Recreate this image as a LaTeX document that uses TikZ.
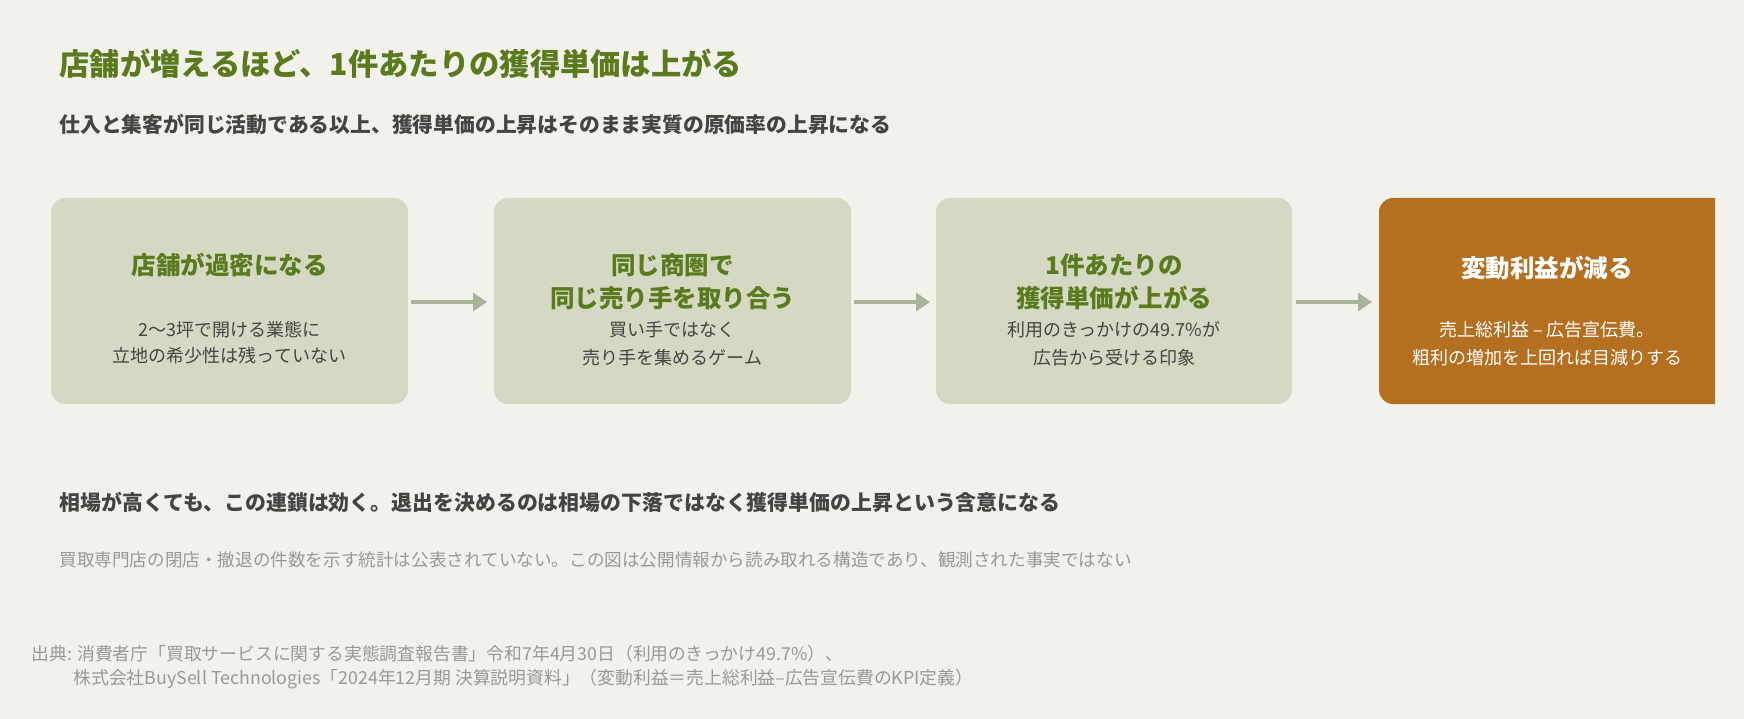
\documentclass[tikz,border=0pt]{standalone}
\usepackage{fontspec}
\setmainfont{Noto Sans CJK JP}
\usetikzlibrary{arrows.meta}
\definecolor{bg}{HTML}{F3F1EB}
\definecolor{boxc}{HTML}{D5D9C3}
\definecolor{grn}{HTML}{5A7A1E}
\definecolor{arr}{HTML}{A8B39A}
\definecolor{org}{HTML}{B56F21}
\definecolor{dk}{HTML}{444444}
\definecolor{gr}{HTML}{999999}
\begin{document}
\begin{tikzpicture}[x=1pt,y=-1pt,
 box/.style={fill=boxc,rounded corners=14pt},
 bt/.style={font=\fontsize{24.5}{30}\selectfont\bfseries,text=grn,anchor=center},
 bs/.style={font=\fontsize{18}{26}\selectfont,text=dk,anchor=center},
 ar/.style={draw=arr,line width=4pt,-{Triangle[length=14pt,width=18pt]}}]
\fill[bg] (0,0) rectangle (1744,719);
\useasboundingbox (0,0) rectangle (1744,719);
\node[anchor=base west,font=\fontsize{30.3}{34}\selectfont\bfseries,text=grn] (t) at (56,76) {店舗が増えるほど、1件あたりの獲得単価は上がる};
\node[anchor=base west,font=\fontsize{20.8}{24}\selectfont\bfseries,text=dk] (s) at (56,133) {仕入と集客が同じ活動である以上、獲得単価の上昇はそのまま実質の原価率の上昇になる};
\fill[box] (51,198) rectangle (408,404);
\fill[box] (494,198) rectangle (851,404);
\fill[box] (936,198) rectangle (1292,404);
\begin{scope}
\clip (1379,190) rectangle (1715,410);
\fill[org,rounded corners=14pt] (1379,198) rectangle (1736,404);
\end{scope}
\node[bt] (t1) at (229.5,265) {店舗が過密になる};
\node[bs] (s1a) at (229.5,330) {2〜3坪で開ける業態に};
\node[bs] (s1b) at (229.5,356) {立地の希少性は残っていない};
\node[bt] (t2a) at (672.5,265) {同じ商圏で};
\node[bt] (t2b) at (672.5,298) {同じ売り手を取り合う};
\node[bs] (s2a) at (672.5,330) {買い手ではなく};
\node[bs] (s2b) at (672.5,358) {売り手を集めるゲーム};
\node[bt] (t3a) at (1114,265) {1件あたりの};
\node[bt] (t3b) at (1114,298) {獲得単価が上がる};
\node[bs] (s3a) at (1114,330) {利用のきっかけの49.7\%が};
\node[bs] (s3b) at (1114,358) {広告から受ける印象};
\node[bt,text=white] (t4) at (1547,268) {変動利益が減る};
\node[bs,text=white] (s4a) at (1547,330) {売上総利益 – 広告宣伝費。};
\node[bs,text=white] (s4b) at (1547,358) {粗利の増加を上回れば目減りする};
\coordinate (a1) at (411,302); \coordinate (e1) at (487,302);
\coordinate (a2) at (854,302); \coordinate (e2) at (930,302);
\coordinate (a3) at (1296,302); \coordinate (e3) at (1372,302);
\draw[ar] (a1) -- (e1); \draw[ar] (a2) -- (e2); \draw[ar] (a3) -- (e3);
\node[anchor=base west,font=\fontsize{20.9}{24}\selectfont\bfseries,text=dk] (c) at (56,510) {相場が高くても、この連鎖は効く。退出を決めるのは相場の下落ではなく獲得単価の上昇という含意になる};
\node[anchor=base west,font=\fontsize{17.6}{20}\selectfont,text=gr] (n) at (56,566) {買取専門店の閉店・撤退の件数を示す統計は公表されていない。この図は公開情報から読み取れる構造であり、観測された事実ではない};
\node[anchor=base west,font=\fontsize{17.8}{20}\selectfont,text=gr] (r1) at (28,660) {出典: 消費者庁「買取サービスに関する実態調査報告書」令和7年4月30日（利用のきっかけ49.7\%）、};
\node[anchor=base west,font=\fontsize{17.8}{20}\selectfont,text=gr] (r2) at (70,684) {株式会社BuySell Technologies「2024年12月期 決算説明資料」（変動利益＝売上総利益–広告宣伝費のKPI定義）};
\end{tikzpicture}
\end{document}
